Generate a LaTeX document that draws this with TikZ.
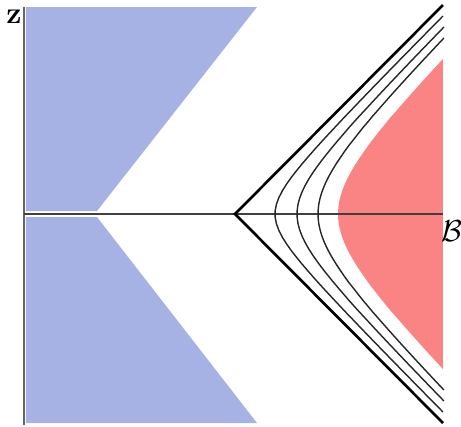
\documentclass[tikz,border=0pt]{standalone}
\usepackage{amsmath}
\usepackage{amssymb}
\usetikzlibrary{positioning}

\definecolor{regionblue}{RGB}{166,178,228}
\definecolor{regionred}{RGB}{250,132,132}

\begin{document}
\begin{tikzpicture}[
    x=0.02cm, y=-0.02cm,
    axis/.style={line width=1.1pt, draw=black!60},
    wedge/.style={line width=1.5pt, black},
    level/.style={line width=0.8pt, black!85},
    label/.style={inner sep=0pt, font=\LARGE}
]
    \useasboundingbox (0,0) rectangle (461,427);

    % blue regions
    \fill[regionblue] (26,7) -- (257,7) -- (97,211) -- (26,211) -- cycle;
    \fill[regionblue] (26,217) -- (97,217) -- (257,423) -- (26,423) -- cycle;

    % red region
    \fill[regionred] plot[domain=-155:155, samples=60, variable=\t]
        ({276+veclen(\t,62)}, {214+\t}) -- cycle;

    % axes
    \coordinate (origin) at (24,214);
    \coordinate (ztop) at (24,7);
    \coordinate (zbot) at (24,425);
    \coordinate (bend) at (443,214);
    \draw[axis] (zbot) -- (ztop);
    \draw[line width=0.9pt, black!75] (origin) -- (bend);
    \node[label, font=\LARGE\bfseries] (zlab) at (14,17) {z};
    \node[label] (blab) at (452,231) {$\mathcal{B}$};

    % wedge and level curves
    \coordinate (apex) at (235,214);
    \draw[wedge] (443,5) -- (apex) -- (443,423);
    \foreach \c/\a/\tm in {242.3/32.7/198, 251.5/45.5/187, 258/60/176}
        \draw[level] plot[domain=-\tm:\tm, samples=60, variable=\t]
            ({\c+veclen(\t,\a)}, {214+\t});
\end{tikzpicture}
\end{document}
